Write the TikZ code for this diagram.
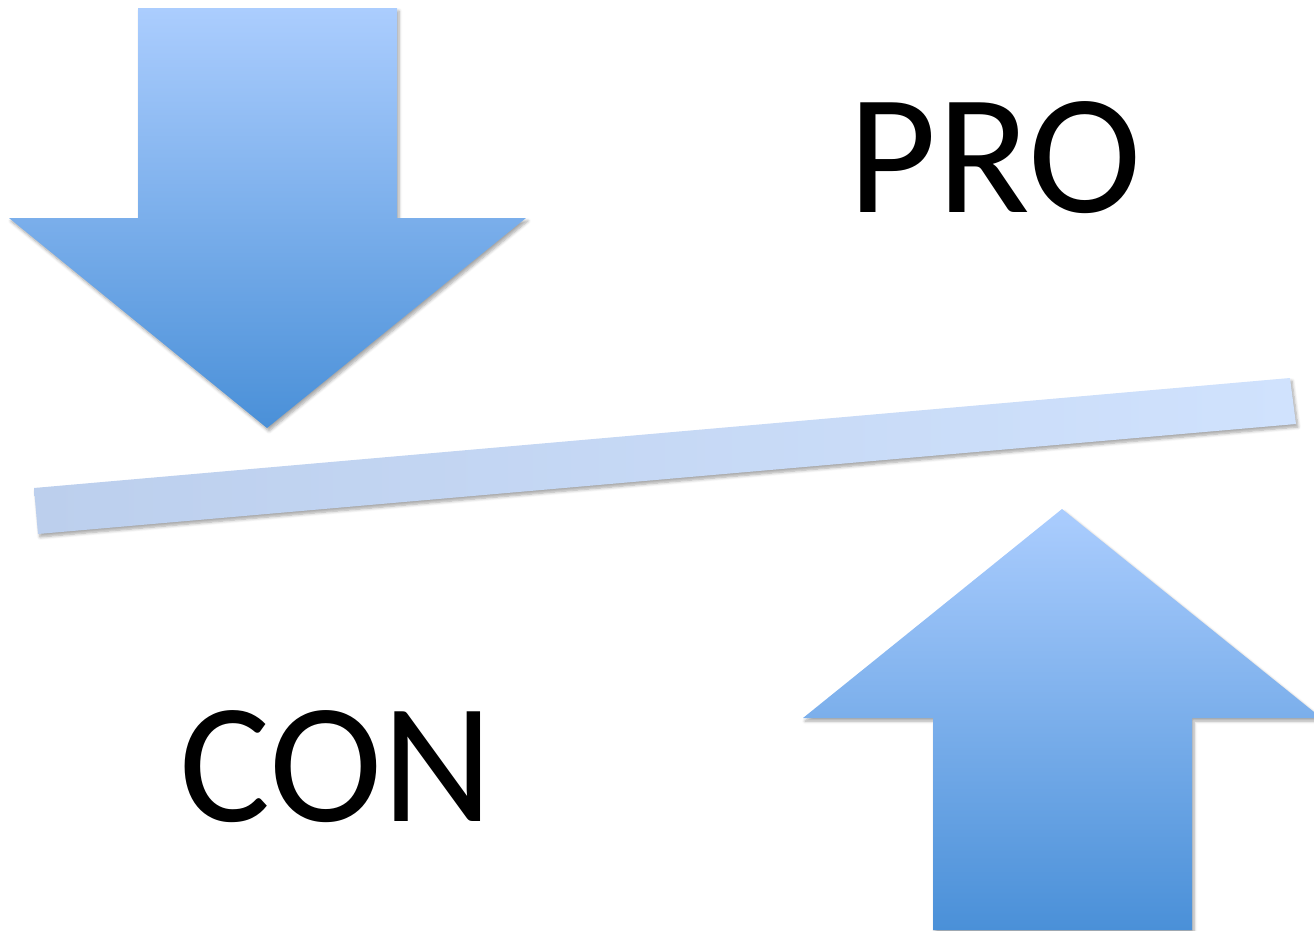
\documentclass[tikz,border=0pt]{standalone}
\usepackage{fontspec}
\setmainfont{Carlito}
\usetikzlibrary{shadows.blur}
\definecolor{arrtop}{HTML}{ABCDFE}
\definecolor{arrbot}{HTML}{4A90D8}
\definecolor{barleft}{HTML}{BCCFED}
\definecolor{barright}{HTML}{D0E2FD}
\tikzset{
  softshadow/.style={blur shadow={shadow xshift=2pt, shadow yshift=-3pt, shadow blur steps=6, shadow blur radius=3pt, shadow opacity=35}},
  bigarrow/.style={top color=arrtop, bottom color=arrbot, draw=none, softshadow},
  barshape/.style={left color=barleft, right color=barright, draw=none, softshadow},
  bigword/.style={inner sep=0pt, anchor=base, font=\fontsize{171}{200}\selectfont}
}
\begin{document}
\begin{tikzpicture}[x=1pt,y=-1pt]
\useasboundingbox (0,0) rectangle (1314,930);
% down arrow
\path[bigarrow] (138,8) -- (397,8) -- (397,218) -- (526,218) -- (267,428) -- (9,218) -- (138,218) -- cycle;
% tilted bar
\path[barshape] (34,488) -- (1290,378) -- (1296,424) -- (38,534) -- cycle;
% up arrow
\path[bigarrow] (1062,509) -- (1314,712) -- (1314,718) -- (1192,718) -- (1192,930) -- (933,930) -- (933,718) -- (803,718) -- cycle;
\node[bigword] (pro) at (995,212) {PRO};
\node[bigword] (con) at (336,821) {CON};
\end{tikzpicture}
\end{document}
